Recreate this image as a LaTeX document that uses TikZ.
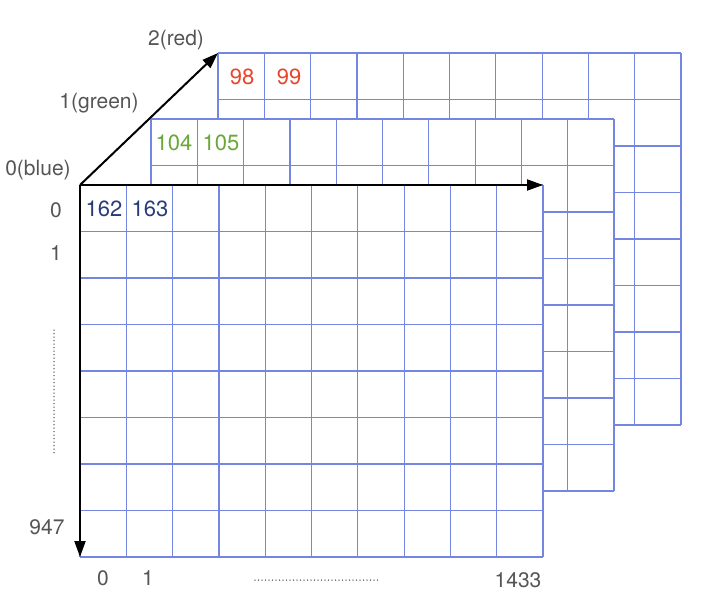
\documentclass[tikz,border=0pt]{standalone}
\usepackage{fontspec}
\setmainfont{TeX Gyre Heros}
\usetikzlibrary{arrows.meta}
\definecolor{gridblue}{HTML}{7386E0}
\definecolor{labelgray}{HTML}{555555}
\definecolor{navytxt}{HTML}{2A3B7C}
\definecolor{greentxt}{HTML}{6AA83A}
\definecolor{redtxt}{HTML}{E8452C}
\newcommand\imgrid[2]{%
  \fill[white] (#1,#2) rectangle ++(463,372);
  \foreach \i in {0,...,10} \draw[gridline] ({#1+46.3*\i},#2) -- ++(0,372);
  \foreach \j in {0,...,8} \draw[gridline] (#1,{#2+46.5*\j}) -- ++(463,0);
}
\begin{document}
\begin{tikzpicture}[x=1pt,y=-1pt,
  gridline/.style={draw=gridblue, line width=1.2pt},
  axis/.style={line width=2pt, -{Triangle[length=16pt,width=11pt]}},
  lbl/.style={text=labelgray, font=\fontsize{21}{21}\selectfont, inner sep=0pt},
  celltxt/.style={font=\fontsize{22}{22}\selectfont, inner sep=0pt},
  dots/.style={draw=labelgray, line width=1.5pt, line cap=round, dash pattern=on 0pt off 3.5pt}]
\useasboundingbox (0,0) rectangle (703,613);
% back (red) channel
\imgrid{218}{53}
% middle (green) channel
\imgrid{151}{119}
% front (blue) channel
\imgrid{80}{185}
% cell values
\node[celltxt, text=redtxt] (r98) at (242,77) {98};
\node[celltxt, text=redtxt] (r99) at (289,77) {99};
\node[celltxt, text=greentxt] (g104) at (174,143) {104};
\node[celltxt, text=greentxt] (g105) at (221,143) {105};
\node[celltxt, text=navytxt] (b162) at (104,209) {162};
\node[celltxt, text=navytxt] (b163) at (150,209) {163};
% axes
\coordinate (O) at (80,185);
\coordinate (Rc) at (218,53);
\coordinate (Xe) at (543,185);
\coordinate (Ye) at (80,557);
\draw[axis] (O) -- (Rc);
\draw[axis] (O) -- (Xe);
\draw[axis] (O) -- (Ye);
% labels
\node[lbl] (lred) at (176,40) {2(red)};
\node[lbl] (lgreen) at (99,103) {1(green)};
\node[lbl] (lblue) at (38,170) {0(blue)};
\node[lbl] (row0) at (56,210) {0};
\node[lbl] (row1) at (56,253) {1};
\node[lbl] (row947) at (47,527) {947};
\node[lbl] (col0) at (103,578) {0};
\node[lbl] (col1) at (148,578) {1};
\node[lbl] (col1433) at (518,580) {1433};
% ellipsis dots
\coordinate (vd1) at (54,330);
\coordinate (vd2) at (54,453);
\coordinate (hd1) at (255,580);
\coordinate (hd2) at (380,580);
\draw[dots] (vd1) -- (vd2);
\draw[dots] (hd1) -- (hd2);
\end{tikzpicture}
\end{document}
